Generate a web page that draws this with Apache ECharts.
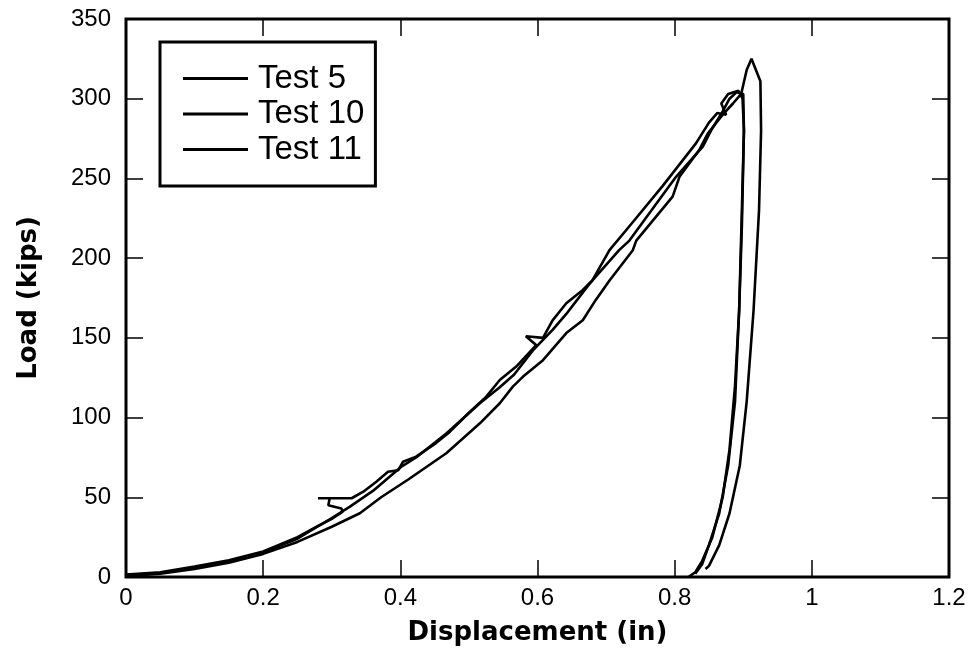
<!DOCTYPE html>
<html>
<head>
<meta charset="utf-8">
<script src="https://cdn.jsdelivr.net/npm/echarts@6/dist/echarts.min.js"></script>
<style>
html,body{margin:0;padding:0;background:#fff;}
#chart{width:978px;height:670px;}
</style>
</head>
<body>
<div id="chart"></div>
<script>
// Test 5 (upper curve with glitches)
const test5X = [0, 0.05, 0.1, 0.15, 0.2, 0.25, 0.28, 0.30, 0.316, 0.314, 0.295, 0.297, 0.28, 0.329, 0.346, 0.365, 0.382, 0.397, 0.404, 0.423, 0.452, 0.472, 0.5, 0.525, 0.545, 0.569, 0.598, 0.583, 0.608, 0.622, 0.642, 0.666, 0.68, 0.705, 0.734, 0.782, 0.831, 0.85, 0.862, 0.875, 0.868, 0.878, 0.893, 0.899, 0.901, 0.898, 0.894, 0.888, 0.88, 0.87, 0.855, 0.84, 0.83, 0.82];
const test5Y = [1.5, 3, 6.5, 10.5, 16, 25, 32, 36.5, 41, 43, 45, 49.4, 49.4, 49.4, 53.5, 59.8, 66, 67, 72.3, 75.5, 84, 91, 103, 113, 123.6, 132, 145.5, 151, 150, 161, 171.7, 180, 186, 205, 220, 245, 272, 285, 291, 290, 297, 303, 305, 300, 280, 230, 167, 120, 80, 50, 25, 10, 3, 0];
// Test 10 (middle curve)
const test10X = [0, 0.05, 0.1, 0.15, 0.2, 0.25, 0.3, 0.326, 0.36, 0.401, 0.423, 0.467, 0.516, 0.545, 0.566, 0.593, 0.622, 0.642, 0.676, 0.719, 0.734, 0.802, 0.841, 0.853, 0.87, 0.88, 0.89, 0.9, 0.901, 0.898, 0.894, 0.888, 0.878, 0.865, 0.85, 0.84, 0.83];
const test10Y = [1, 2.5, 6, 10, 15.5, 24, 37, 44, 54, 69, 75, 90, 109, 119, 127, 142, 155, 165, 184, 205, 211, 251, 270, 280, 292, 300, 304, 303, 280, 220, 167, 110, 70, 40, 20, 8, 2];
// Test 11 (lower / right curve)
const test11X = [0, 0.05, 0.1, 0.15, 0.2, 0.25, 0.3, 0.341, 0.372, 0.411, 0.467, 0.516, 0.545, 0.564, 0.579, 0.608, 0.642, 0.666, 0.685, 0.705, 0.739, 0.744, 0.797, 0.807, 0.836, 0.848, 0.87, 0.885, 0.897, 0.905, 0.912, 0.925, 0.926, 0.923, 0.915, 0.905, 0.895, 0.88, 0.865, 0.85, 0.845];
const test11Y = [0.5, 2, 5, 9, 14.5, 22, 31.5, 40, 50, 61, 77.6, 96.4, 109, 119.4, 125.7, 136, 153, 161, 173.8, 186, 205, 211, 238.6, 251, 268, 278, 290, 297, 303, 318, 325, 311, 280, 230, 167, 110, 70, 40, 20, 7, 5];

const seriesNames = ['Test 5', 'Test 10', 'Test 11'];
const xTicks = [0, 0.2, 0.4, 0.6, 0.8, 1, 1.2];
const yTicks = [0, 50, 100, 150, 200, 250, 300, 350];

function pairs(xs, ys) { return xs.map((x, i) => [x, ys[i]]); }
const allData = [pairs(test5X, test5Y), pairs(test10X, test10Y), pairs(test11X, test11Y)];

const FONT = '"Liberation Sans", Arial, sans-serif';
const TITLE_FONT = '"DejaVu Sans", "Liberation Sans", sans-serif';
const tickStyle = { show: true, inside: true, length: 17, lineStyle: { color: '#000', width: 1.5 } };
const noLine = { show: false, onZero: false };

const chart = echarts.init(document.getElementById('chart'), null, { renderer: 'canvas' });
chart.setOption({
  animation: false,
  backgroundColor: '#fff',
  grid: { left: 126, right: 29, top: 19, bottom: 93, show: true, borderColor: '#000', borderWidth: 3, backgroundColor: 'transparent' },
  legend: {
    orient: 'vertical', left: 160, top: 42,
    data: seriesNames,
    icon: 'rect',
    itemWidth: 65, itemHeight: 3, itemGap: 2.5,
    padding: [20, 11, 20, 23],
    borderColor: '#000', borderWidth: 3,
    itemStyle: { color: '#000' },
    textStyle: { fontFamily: FONT, fontSize: 33, lineHeight: 33, color: '#000', padding: [0, 0, 0, 5] }
  },
  xAxis: [{
    type: 'value', min: xTicks[0], max: xTicks[xTicks.length - 1], interval: 0.2,
    axisLine: noLine, splitLine: { show: false }, axisTick: tickStyle,
    axisLabel: { fontFamily: FONT, fontSize: 24, color: '#000', margin: 9, formatter: v => String(+v.toFixed(1)) },
    name: 'Displacement (in)', nameLocation: 'middle', nameGap: 43,
    nameTextStyle: { fontFamily: TITLE_FONT, fontSize: 26, fontWeight: 'bold', color: '#000' }
  }, {
    type: 'value', position: 'top', min: 0, max: 1.2, interval: 0.2,
    axisLine: noLine, splitLine: { show: false }, axisTick: tickStyle, axisLabel: { show: false }
  }],
  yAxis: [{
    type: 'value', min: yTicks[0], max: yTicks[yTicks.length - 1], interval: 50,
    axisLine: noLine, splitLine: { show: false }, axisTick: tickStyle,
    axisLabel: { fontFamily: FONT, fontSize: 24, color: '#000', margin: 15 },
    name: 'Load (kips)', nameLocation: 'middle', nameGap: 84, nameRotate: 90,
    nameTextStyle: { fontFamily: TITLE_FONT, fontSize: 26, fontWeight: 'bold', color: '#000' }
  }, {
    type: 'value', position: 'right', min: 0, max: 350, interval: 50,
    axisLine: noLine, splitLine: { show: false }, axisTick: tickStyle, axisLabel: { show: false }
  }],
  series: seriesNames.map((n, i) => ({
    name: n, type: 'line', data: allData[i], xAxisIndex: 0, yAxisIndex: 0,
    symbol: 'none', showSymbol: false, smooth: false,
    lineStyle: { color: '#000', width: 2.6 }, itemStyle: { color: '#000' }
  }))
});
</script>
</body>
</html>
